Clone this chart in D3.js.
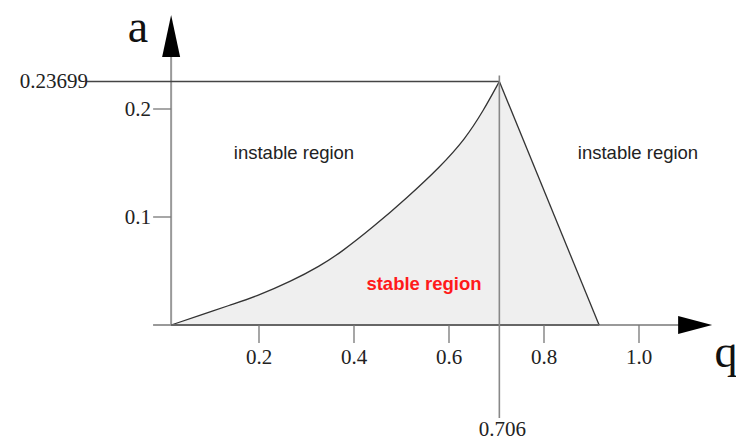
<!DOCTYPE html>
<html>
<head>
<meta charset="utf-8">
<script src="https://cdn.jsdelivr.net/npm/d3@7"></script>
<style>
  body { margin: 0; background: #fff; }
  svg { display: block; }
  .tick-label { font-family: "Liberation Serif", "Times New Roman", serif; font-size: 21px; fill: #222; }
  .axis-name { font-family: "Liberation Serif", "Times New Roman", serif; font-size: 46px; fill: #111; }
  .region { font-family: "Liberation Sans", Arial, sans-serif; font-size: 18.5px; fill: #222; }
</style>
</head>
<body>
<div id="chart"></div>
<script>
// stability boundary (q, a)
const curveQ = [0.015, 0.072, 0.139, 0.192, 0.269, 0.328, 0.371, 0.440, 0.512, 0.581, 0.634, 0.672, 0.706];
const curveA = [0, 0.0083, 0.0185, 0.026, 0.0407, 0.0546, 0.0667, 0.0905, 0.1180, 0.1463, 0.1722, 0.1981, 0.2255];
const rightEdgeQ = [0.706, 0.916];
const rightEdgeA = [0.2255, 0];

const xTicks = [0.2, 0.4, 0.6, 0.8, 1.0];
const yTicks = [0.1, 0.2];
const peakQ = 0.706, peakA = 0.2255;
const peakLabels = ["0.706", "0.23699"];
const regionLabels = ["instable region", "instable region", "stable region"];

const width = 736, height = 441;

const x = d3.scaleLinear().domain([0, 1]).range([164, 639]);
const y = d3.scaleLinear().domain([0, 0.2]).range([325, 109]);

const svg = d3.select("#chart").append("svg")
  .attr("width", width)
  .attr("height", height);

const curvePts = curveQ.map((q, i) => [q, curveA[i]]);
const smooth = d3.line().x(d => x(d[0])).y(d => y(d[1])).curve(d3.curveBasis);
const straight = d3.line().x(d => x(d[0])).y(d => y(d[1]));

// stable region fill
svg.append("path")
  .attr("d", smooth(curvePts) + `L${x(rightEdgeQ[1])},${y(rightEdgeA[1])}Z`)
  .attr("fill", "#efefef")
  .attr("stroke", "none");

// axes
const qMin = -0.023, qMax = 1.154;
svg.append("line")
  .attr("x1", x(qMin)).attr("x2", x(qMax) - 30)
  .attr("y1", y(0)).attr("y2", y(0))
  .attr("stroke", "#999").attr("stroke-width", 2);
svg.append("line")
  .attr("x1", x(curveQ[0])).attr("x2", x(curveQ[0]))
  .attr("y1", y(0)).attr("y2", y(0.265))
  .attr("stroke", "#999").attr("stroke-width", 2);

// arrow heads
const ax = x(qMax), ay = y(0);
svg.append("path")
  .attr("d", `M${ax},${ay} L${ax - 34},${ay - 9} L${ax - 34},${ay + 9} Z`)
  .attr("fill", "#000");
const tx = x(curveQ[0]), ty = 15;
svg.append("path")
  .attr("d", `M${tx},${ty} L${tx - 9},${ty + 42} L${tx + 9},${ty + 42} Z`)
  .attr("fill", "#000");

// boundary lines
svg.append("path")
  .attr("d", smooth(curvePts))
  .attr("fill", "none").attr("stroke", "#333").attr("stroke-width", 1.3);
svg.append("path")
  .attr("d", straight(rightEdgeQ.map((q, i) => [q, rightEdgeA[i]])))
  .attr("fill", "none").attr("stroke", "#333").attr("stroke-width", 1.3);
svg.append("line")
  .attr("x1", x(curveQ[0])).attr("x2", x(rightEdgeQ[1]))
  .attr("y1", y(0)).attr("y2", y(0))
  .attr("stroke", "#666").attr("stroke-width", 2);

// peak guides
svg.append("line")
  .attr("x1", 87).attr("x2", x(peakQ))
  .attr("y1", y(peakA)).attr("y2", y(peakA))
  .attr("stroke", "#444").attr("stroke-width", 1.5);
svg.append("line")
  .attr("x1", x(peakQ)).attr("x2", x(peakQ))
  .attr("y1", y(peakA) - 6).attr("y2", 418)
  .attr("stroke", "#888").attr("stroke-width", 1.6);

// ticks
svg.selectAll(".xt").data(xTicks).join("line")
  .attr("x1", d => x(d)).attr("x2", d => x(d))
  .attr("y1", y(0)).attr("y2", y(0) + 18)
  .attr("stroke", "#777").attr("stroke-width", 1.3);
svg.selectAll(".xl").data(xTicks).join("text")
  .attr("class", "tick-label")
  .attr("x", d => x(d)).attr("y", 364)
  .attr("text-anchor", "middle")
  .text(d => d.toFixed(1));

svg.selectAll(".yt").data(yTicks).join("line")
  .attr("x1", x(curveQ[0]) - 18).attr("x2", x(curveQ[0]))
  .attr("y1", d => y(d)).attr("y2", d => y(d))
  .attr("stroke", "#777").attr("stroke-width", 1.3);
svg.selectAll(".yl").data(yTicks).join("text")
  .attr("class", "tick-label")
  .attr("x", 151).attr("y", d => y(d) + 7)
  .attr("text-anchor", "end")
  .text(d => d.toFixed(1));

svg.append("text").attr("class", "tick-label")
  .attr("x", x(peakQ) + 3).attr("y", 436)
  .attr("text-anchor", "middle")
  .text(peakLabels[0]);
svg.append("text").attr("class", "tick-label")
  .attr("x", 88).attr("y", y(peakA) + 7)
  .attr("text-anchor", "end")
  .text(peakLabels[1]);

// axis names
svg.append("text").attr("class", "axis-name")
  .attr("x", 138).attr("y", 42).attr("text-anchor", "middle").text("a");
svg.append("text").attr("class", "axis-name")
  .attr("x", 726).attr("y", 367).attr("text-anchor", "middle").text("q");

// region labels
svg.append("text").attr("class", "region")
  .attr("x", 294).attr("y", 159).attr("text-anchor", "middle").text(regionLabels[0]);
svg.append("text").attr("class", "region")
  .attr("x", 638).attr("y", 159).attr("text-anchor", "middle").text(regionLabels[1]);
svg.append("text").attr("class", "region")
  .attr("x", 424).attr("y", 290).attr("text-anchor", "middle")
  .style("fill", "#ff1a1a").style("font-weight", "bold")
  .text(regionLabels[2]);
</script>
</body>
</html>
